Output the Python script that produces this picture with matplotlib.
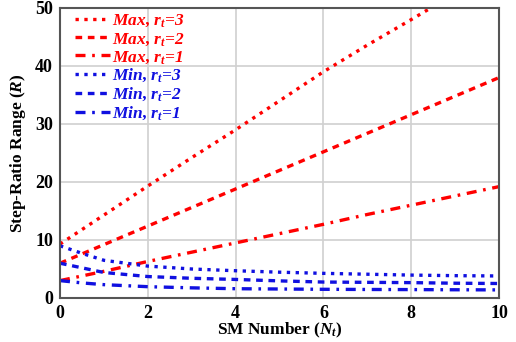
import matplotlib
matplotlib.use("Agg")
import matplotlib.pyplot as plt

plt.rcParams['font.family'] = 'Liberation Serif'
plt.rcParams['font.weight'] = 'bold'
plt.rcParams['mathtext.fontset'] = 'custom'
plt.rcParams['mathtext.it'] = 'Liberation Serif:italic:bold'
plt.rcParams['mathtext.rm'] = 'Liberation Serif:bold'

# SM number
n_t = [0, 0.5, 1, 2, 3, 4, 5, 6, 7, 8, 9, 10]

# max step-ratio range
max_r3 = [9.3, 11.8, 14.3, 19.3, 24.2, 29.0, 34.0, 39.0, 43.6, 48.0, 52.5, 57.0]
max_r2 = [6.0, 7.6, 9.2, 12.4, 15.6, 18.8, 22.0, 25.2, 28.4, 31.6, 34.8, 38.0]
max_r1 = [3.0, 3.8, 4.6, 6.3, 7.9, 9.5, 11.1, 12.7, 14.4, 16.0, 17.6, 19.2]

# min step-ratio range
min_r3 = [9.0, 7.7, 6.5, 5.5, 5.0, 4.7, 4.45, 4.25, 4.1, 3.95, 3.85, 3.8]
min_r2 = [6.0, 5.2, 4.4, 3.7, 3.4, 3.2, 2.95, 2.75, 2.7, 2.65, 2.55, 2.5]
min_r1 = [3.0, 2.6, 2.3, 1.95, 1.75, 1.6, 1.55, 1.5, 1.47, 1.45, 1.42, 1.4]

red = '#ff0000'
blue = '#1010e0'

fig = plt.figure(figsize=(5.16, 3.42), dpi=100)
ax = fig.add_axes([60/516, 1 - 298/342, 439/516, 290/342])

lw = 2.4
h1, = ax.plot(n_t, max_r3, ':', color=red, lw=lw, label=r'Max, $r_t$=3')
h2, = ax.plot(n_t, max_r2, '--', color=red, lw=lw, dashes=(2.0, 1.7), label=r'Max, $r_t$=2')
h3, = ax.plot(n_t, max_r1, '-.', color=red, lw=lw, dashes=(3, 2, 0.8, 2), label=r'Max, $r_t$=1')
h4, = ax.plot(n_t, min_r3, ':', color=blue, lw=lw, label=r'Min, $r_t$=3')
h5, = ax.plot(n_t, min_r2, '--', color=blue, lw=lw, dashes=(2.0, 1.7), label=r'Min, $r_t$=2')
h6, = ax.plot(n_t, min_r1, '-.', color=blue, lw=lw, dashes=(3, 2, 0.8, 2), label=r'Min, $r_t$=1')

ax.set_xlim(0, 10)
ax.set_ylim(0, 50)
ax.set_xticks([0, 2, 4, 6, 8, 10])
ax.set_yticks([0, 10, 20, 30, 40, 50])
ax.grid(True, color='#d0d0d0', lw=1.2)
ax.tick_params(length=0, labelsize=13, pad=5)
for s in ax.spines.values():
    s.set_color('#555555')
    s.set_linewidth(1.5)

ax.set_xlabel(r'SM Number ($N_t$)', fontsize=12.5, fontweight='bold', labelpad=-1)
ax.set_ylabel(r'Step-Ratio Range ($R$)', fontsize=12.5, fontweight='bold', labelpad=5)

legprops = {'style': 'italic', 'weight': 'bold', 'size': 12.5}
legkw = dict(loc='upper left', frameon=False, prop=legprops, handlelength=2.0,
             handletextpad=0.15, labelspacing=0.08, borderpad=0.1, borderaxespad=0.0)
leg1 = ax.legend(handles=[h1, h2, h3], bbox_to_anchor=(0.03, 0.99), **legkw)
for t in leg1.get_texts():
    t.set_color(red)
ax.add_artist(leg1)
leg2 = ax.legend(handles=[h4, h5, h6], bbox_to_anchor=(0.03, 0.805), **legkw)
for t in leg2.get_texts():
    t.set_color(blue)

fig.savefig('out.png', dpi=100)
